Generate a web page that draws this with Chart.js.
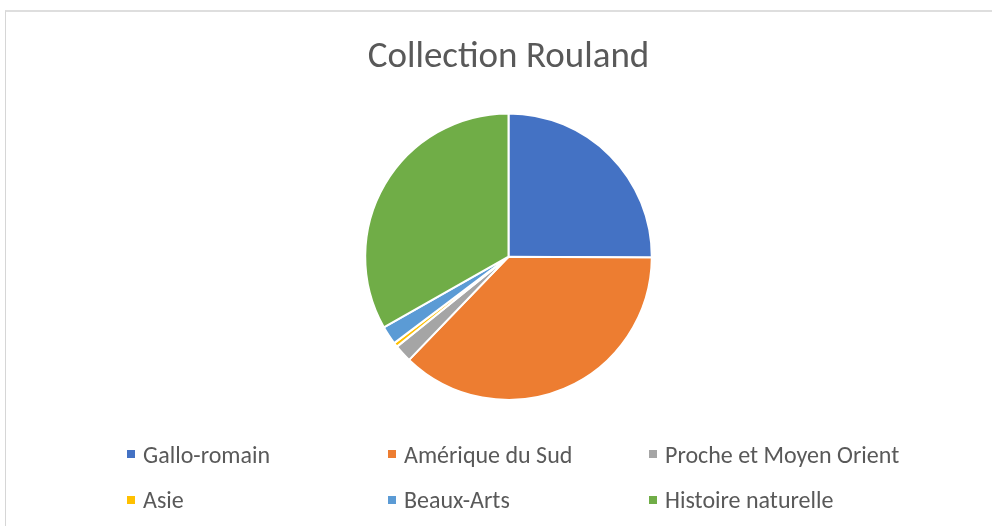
<!DOCTYPE html>
<html lang="fr">
<head>
<meta charset="utf-8">
<title>Collection Rouland</title>
<script src="https://cdn.jsdelivr.net/npm/chart.js@4.4.1/dist/chart.umd.min.js"></script>
<style>
    html, body {
        margin: 0;
        padding: 0;
        background: #ffffff;
    }
    #wrap {
        position: relative;
        width: 992px;
        height: 526px;
        overflow: hidden;
    }
    #frame {
        position: absolute;
        left: 5px;
        top: 10px;
        width: 1100px;
        height: 600px;
        border-left: 1px solid #d6d6d6;
        border-top: 2px solid #dedede;
    }
    #pie {
        position: absolute;
        left: 0;
        top: 0;
    }
    #legend {
        position: absolute;
        left: 0;
        top: 0;
        font-family: Carlito, Lato, sans-serif;
        font-size: 24px;
        color: #595959;
    }
    .legend-item {
        position: absolute;
        display: flex;
        align-items: center;
        height: 24px;
        white-space: nowrap;
    }
    .legend-box {
        width: 8px;
        height: 8px;
        margin-right: 8px;
    }
</style>
</head>
<body>
<div id="wrap">
    <div id="frame"></div>
    <canvas id="pie" width="992" height="526"></canvas>
    <div id="legend"></div>
</div>
<script>
// Share of the collection per department (%)
const departments = ['Gallo-romain', 'Amérique du Sud', 'Proche et Moyen Orient', 'Asie', 'Beaux-Arts', 'Histoire naturelle'];
const shares = [25.1, 37.1, 2.0, 0.5, 2.1, 33.2];
const sliceColors = ['#4472C4', '#ED7D31', '#A5A5A5', '#FFC000', '#5B9BD5', '#70AD47'];

document.addEventListener('DOMContentLoaded', () => {
    const ctx = document.getElementById('pie').getContext('2d');

    const chart = new Chart(ctx, {
        type: 'pie',
        data: {
            labels: departments,
            datasets: [{
                data: shares,
                backgroundColor: sliceColors,
                borderColor: '#ffffff',
                borderWidth: 2
            }]
        },
        options: {
            responsive: false,
            animation: false,
            layout: {
                padding: { left: 25, right: 0, top: 0, bottom: 125 }
            },
            plugins: {
                legend: { display: false },
                tooltip: { enabled: false },
                title: {
                    display: true,
                    text: 'Collection Rouland',
                    color: '#595959',
                    font: { family: 'Carlito, Lato, sans-serif', size: 37, weight: 'normal', lineHeight: 1.2 },
                    padding: { top: 36, bottom: 32 }
                }
            }
        }
    });

    // Legend laid out in a 3-column grid under the pie
    const legend = document.getElementById('legend');
    chart.data.labels.forEach((label, i) => {
        const col = i % 3;
        const row = Math.floor(i / 3);

        const item = document.createElement('div');
        item.classList.add('legend-item');
        item.style.left = (127 + col * 261) + 'px';
        item.style.top = (442 + row * 45.5) + 'px';

        const box = document.createElement('span');
        box.classList.add('legend-box');
        box.style.background = chart.data.datasets[0].backgroundColor[i];

        const text = document.createElement('span');
        text.textContent = label;

        item.appendChild(box);
        item.appendChild(text);
        legend.appendChild(item);
    });
});
</script>
</body>
</html>
